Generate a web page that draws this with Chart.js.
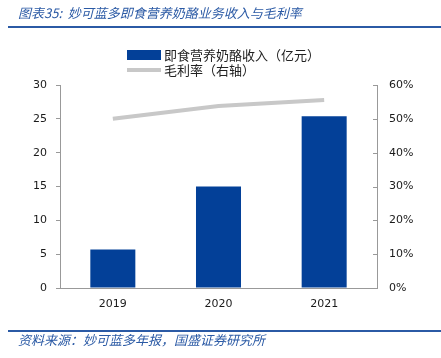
<!DOCTYPE html>
<html><head><meta charset="utf-8">
<script src="https://cdn.jsdelivr.net/npm/chart.js@4"></script>
<style>html,body{margin:0;padding:0;background:#fff;} #wrap{width:441px;height:358px;position:relative;}</style>
</head><body><div id="wrap"><canvas id="c" width="441" height="358"></canvas></div>
<script>
const categories = ['2019', '2020', '2021'];
const revenue = [5.7, 15.0, 25.4];
const grossMargin = [50.0, 53.8, 55.6];
const seriesNames = ['即食营养奶酪收入（亿元）', '毛利率（右轴）'];
const titleText = '图表35:  妙可蓝多即食营养奶酪业务收入与毛利率';
const sourceText = '资料来源：妙可蓝多年报，国盛证券研究所';

const BAR = '#034098', LINE = '#c8c8c8', AXIS = '#999999', HEAD = '#2B5AA5';
const CJK = '"Noto Sans CJK SC", sans-serif';

const deco = {
  id: 'deco',
  afterDraw(chart) {
    const ctx = chart.ctx;
    ctx.save();
    // title
    ctx.fillStyle = HEAD;
    ctx.font = 'italic 13px ' + CJK;
    ctx.textBaseline = 'middle';
    ctx.textAlign = 'left';
    ctx.fillText(titleText, 18, 13);
    ctx.strokeStyle = HEAD;
    ctx.lineWidth = 2;
    ctx.beginPath(); ctx.moveTo(8, 27); ctx.lineTo(441, 27); ctx.stroke();
    // footer
    ctx.beginPath(); ctx.moveTo(8, 331); ctx.lineTo(441, 331); ctx.stroke();
    ctx.font = 'italic 13px ' + CJK;
    ctx.fillText(sourceText, 18, 340);
    // legend
    const barDs = chart.data.datasets.find(d => d.type === 'bar');
    const lineDs = chart.data.datasets.find(d => d.type === 'line');
    ctx.fillStyle = BAR;
    ctx.fillRect(127, 50, 34, 10);
    ctx.strokeStyle = LINE; ctx.lineWidth = 4;
    ctx.beginPath(); ctx.moveTo(127, 70); ctx.lineTo(161, 70); ctx.stroke();
    ctx.fillStyle = '#222';
    ctx.font = '13px ' + CJK;
    ctx.fillText(barDs.label, 164, 55);
    ctx.fillText(lineDs.label, 164, 70);
    // inward ticks on right axis
    const y1 = chart.scales.y1;
    ctx.strokeStyle = AXIS; ctx.lineWidth = 1;
    y1.ticks.forEach(t => {
      const py = Math.round(y1.getPixelForValue(t.value)) + 0.5;
      ctx.beginPath(); ctx.moveTo(y1.left - 4, py); ctx.lineTo(y1.left, py); ctx.stroke();
    });
    ctx.restore();
  }
};

new Chart(document.getElementById('c'), {
  data: {
    labels: categories,
    datasets: [
      { type: 'line', label: seriesNames[1], data: grossMargin, yAxisID: 'y1',
        borderColor: LINE, borderWidth: 4, pointRadius: 0, tension: 0, order: 0 },
      { type: 'bar', label: seriesNames[0], data: revenue, yAxisID: 'y',
        backgroundColor: BAR, barPercentage: 0.426, categoryPercentage: 1, order: 1 }
    ]
  },
  options: {
    responsive: false, animation: false, devicePixelRatio: 1,
    layout: { padding: { top: 85, left: 0, right: 0, bottom: 0 } },
    plugins: { legend: { display: false }, tooltip: { enabled: false } },
    scales: {
      x: {
        grid: { display: false, drawTicks: false },
        border: { display: true, color: AXIS },
        ticks: { color: '#1a1a1a', font: { family: 'DejaVu Sans', size: 11 }, padding: 10 },
        afterFit(s) { s.height = 70; }
      },
      y: {
        position: 'left', min: 0, max: 30,
        grid: { drawOnChartArea: false, drawTicks: true, tickLength: 4, color: AXIS },
        border: { display: true, color: AXIS },
        ticks: { stepSize: 5, color: '#1a1a1a', font: { family: 'DejaVu Sans', size: 11 }, padding: 9 },
        afterFit(s) { s.width = 60; }
      },
      y1: {
        position: 'right', min: 0, max: 60,
        grid: { drawOnChartArea: false, drawTicks: false },
        border: { display: true, color: AXIS },
        ticks: { stepSize: 10, color: '#1a1a1a', font: { family: 'DejaVu Sans', size: 11 }, padding: 12,
                 callback: v => v + '%' },
        afterFit(s) { s.width = 64; }
      }
    }
  },
  plugins: [deco]
});
</script></body></html>
